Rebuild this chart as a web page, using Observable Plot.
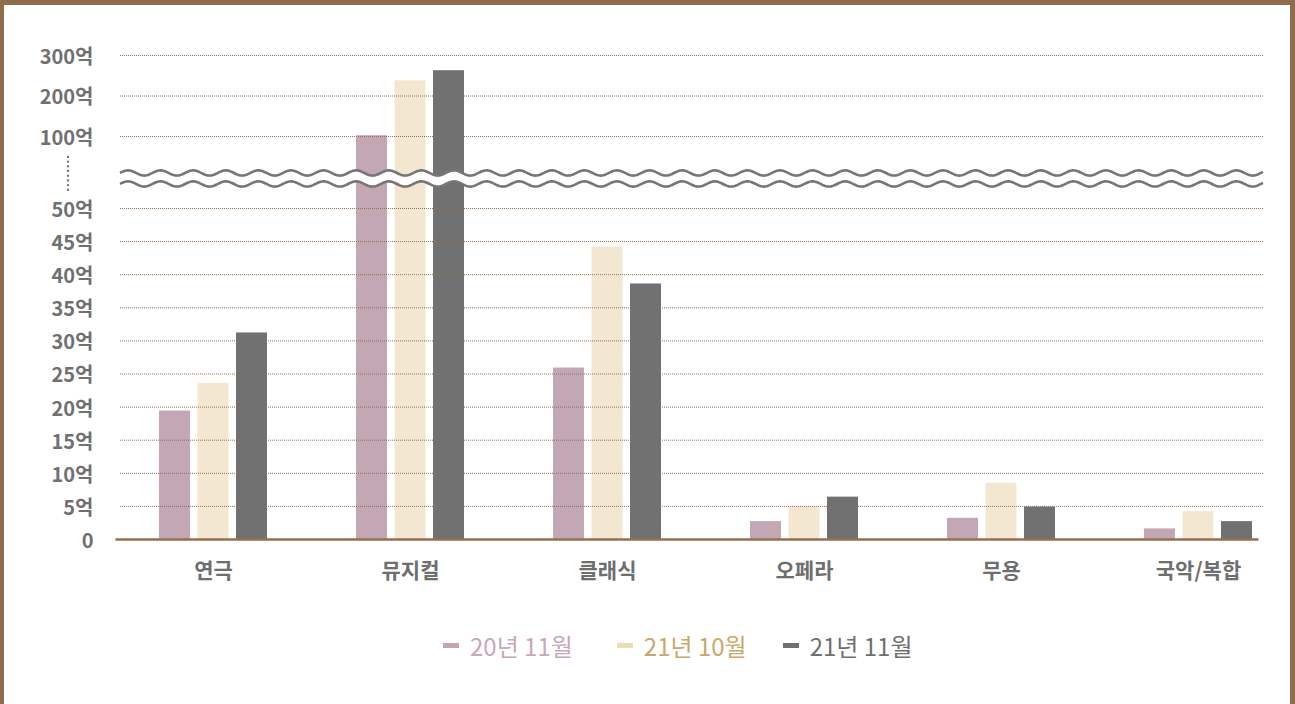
<!DOCTYPE html>
<html>
<head>
<meta charset="utf-8">
<script src="https://cdn.jsdelivr.net/npm/d3@7"></script>
<script src="https://cdn.jsdelivr.net/npm/@observablehq/plot@0.6"></script>
<style>
  html, body { margin: 0; padding: 0; width: 1295px; height: 704px; overflow: hidden; background: #fff;
    font-family: "Noto Sans CJK KR", "Noto Sans", sans-serif; }
  #frame { position: absolute; left: 0; top: 0; width: 1295px; height: 760px; box-sizing: border-box;
    border: 5px solid #8f6c4b; border-left-width: 4px; }
  #chart { position: absolute; left: 0; top: 0; }
  #legend { position: absolute; top: 630px; left: 443px; display: flex; align-items: center;
    font-size: 24px; line-height: 32px; }
  #legend .item { display: flex; align-items: center; }
  #legend .item:nth-child(1) { margin-right: 44px; }
  #legend .item:nth-child(2) { margin-right: 36px; }
  #legend .sw { width: 16px; height: 5px; margin-right: 11px; margin-top: -2px; }
</style>
</head>
<body>
<div id="frame"></div>
<div id="chart"></div>
<div id="legend"></div>
<script>
// ---- data ----
const categories = ["연극", "뮤지컬", "클래식", "오페라", "무용", "국악/복합"];
const seriesNames = ["20년 11월", "21년 10월", "21년 11월"];
const v20Nov = [19.4, 102, 25.9, 2.7, 3.2, 1.6];
const v21Oct = [23.6, 237.5, 44.2, 5.0, 8.5, 4.2];
const v21Nov = [31.2, 262.5, 38.6, 6.4, 4.9, 2.7];
const yTicks = [0, 5, 10, 15, 20, 25, 30, 35, 40, 45, 50, 100, 200, 300];
const barColors = ["#c4a7b5", "#f3e7d1", "#717171"];
const legendText = ["#c6a8b8", "#c8a86b", "#6f6f6f"];
const legendSwatch = ["#c4a5b5", "#ecdcb2", "#707070"];

const seriesValues = [v20Nov, v21Oct, v21Nov];
const breakValue = 70.5; // between 50억 and 100억

// axis-break decoration: two wavy lines with a white gap, plus a dotted vertical on the axis
function breakMark(index, scales, values, dims) {
  const y = scales.y;
  const x0 = dims.marginLeft, x1 = dims.width - dims.marginRight;
  const yc = y(breakValue);
  const gap = 5.5, amp = 2.6, period = 32.6, phase = 8;
  const xs = d3.range(x0, x1 + 0.01, 0.5);
  const f = (x, off) => yc + off - amp * Math.cos(2 * Math.PI * (x - x0 - phase) / period);
  const g = d3.create("svg:g");
  const top = xs.map(x => [x, f(x, -gap)]);
  const bot = xs.map(x => [x, f(x, gap)]);
  g.append("path")
    .attr("d", d3.line()(top.concat(bot.slice().reverse())) + "Z")
    .attr("fill", "#fff");
  for (const pts of [top, bot]) {
    g.append("path").attr("d", d3.line()(pts))
      .attr("fill", "none").attr("stroke", "#767676").attr("stroke-width", 2.6);
  }
  g.append("line")
    .attr("x1", x0 - 52).attr("x2", x0 - 52)
    .attr("y1", y(85.5)).attr("y2", y(62.5))
    .attr("stroke", "#777").attr("stroke-width", 2.4)
    .attr("stroke-linecap", "round").attr("stroke-dasharray", "0,4.7");
  return g.node();
}

const bars = seriesValues.map((vals, k) =>
  Plot.barY(categories, {
    x: d => d,
    y: (d, i) => vals[i],
    fill: barColors[k],
    insetLeft: k * 38.5,
    insetRight: (2 - k) * 38.5
  })
);

const chart = Plot.plot({
  width: 1295,
  height: 600,
  marginLeft: 120,
  marginRight: 32,
  marginTop: 40,
  marginBottom: 61,
  style: { fontFamily: "'Noto Sans CJK KR', 'Noto Sans', sans-serif", background: "transparent" },
  x: { type: "band", domain: categories, paddingInner: 0.4537, paddingOuter: 0, insetLeft: 37, insetRight: 9 },
  y: { type: "linear", domain: [0, 50, 100, 300], range: [539, 208, 136, 55] },
  marks: [
    ...bars,
    Plot.ruleY(yTicks.filter(d => d > 0), { stroke: "#94704f", strokeWidth: 1, strokeDasharray: "1,1" }),
    Plot.ruleY([0], { stroke: "#94704e", strokeWidth: 2.6, dx: -4.5 }),
    breakMark,
    Plot.axisY({
      ticks: yTicks, tickSize: 0, tickPadding: 27, label: null,
      tickFormat: d => d === 0 ? "0" : d + "억",
      fontSize: 20, fontWeight: "bold", fill: "#707070", dy: 2
    }),
    Plot.axisX({
      tickSize: 0, tickPadding: 24, label: null,
      fontSize: 21, fontWeight: "bold", fill: "#6e6e6e"
    })
  ]
});
document.getElementById("chart").appendChild(chart);

const legend = document.getElementById("legend");
seriesNames.forEach((name, k) => {
  const item = document.createElement("div");
  item.className = "item";
  const sw = document.createElement("span");
  sw.className = "sw";
  sw.style.background = legendSwatch[k];
  const t = document.createElement("span");
  t.textContent = name;
  t.style.color = legendText[k];
  item.appendChild(sw); item.appendChild(t);
  legend.appendChild(item);
});
</script>
</body>
</html>
